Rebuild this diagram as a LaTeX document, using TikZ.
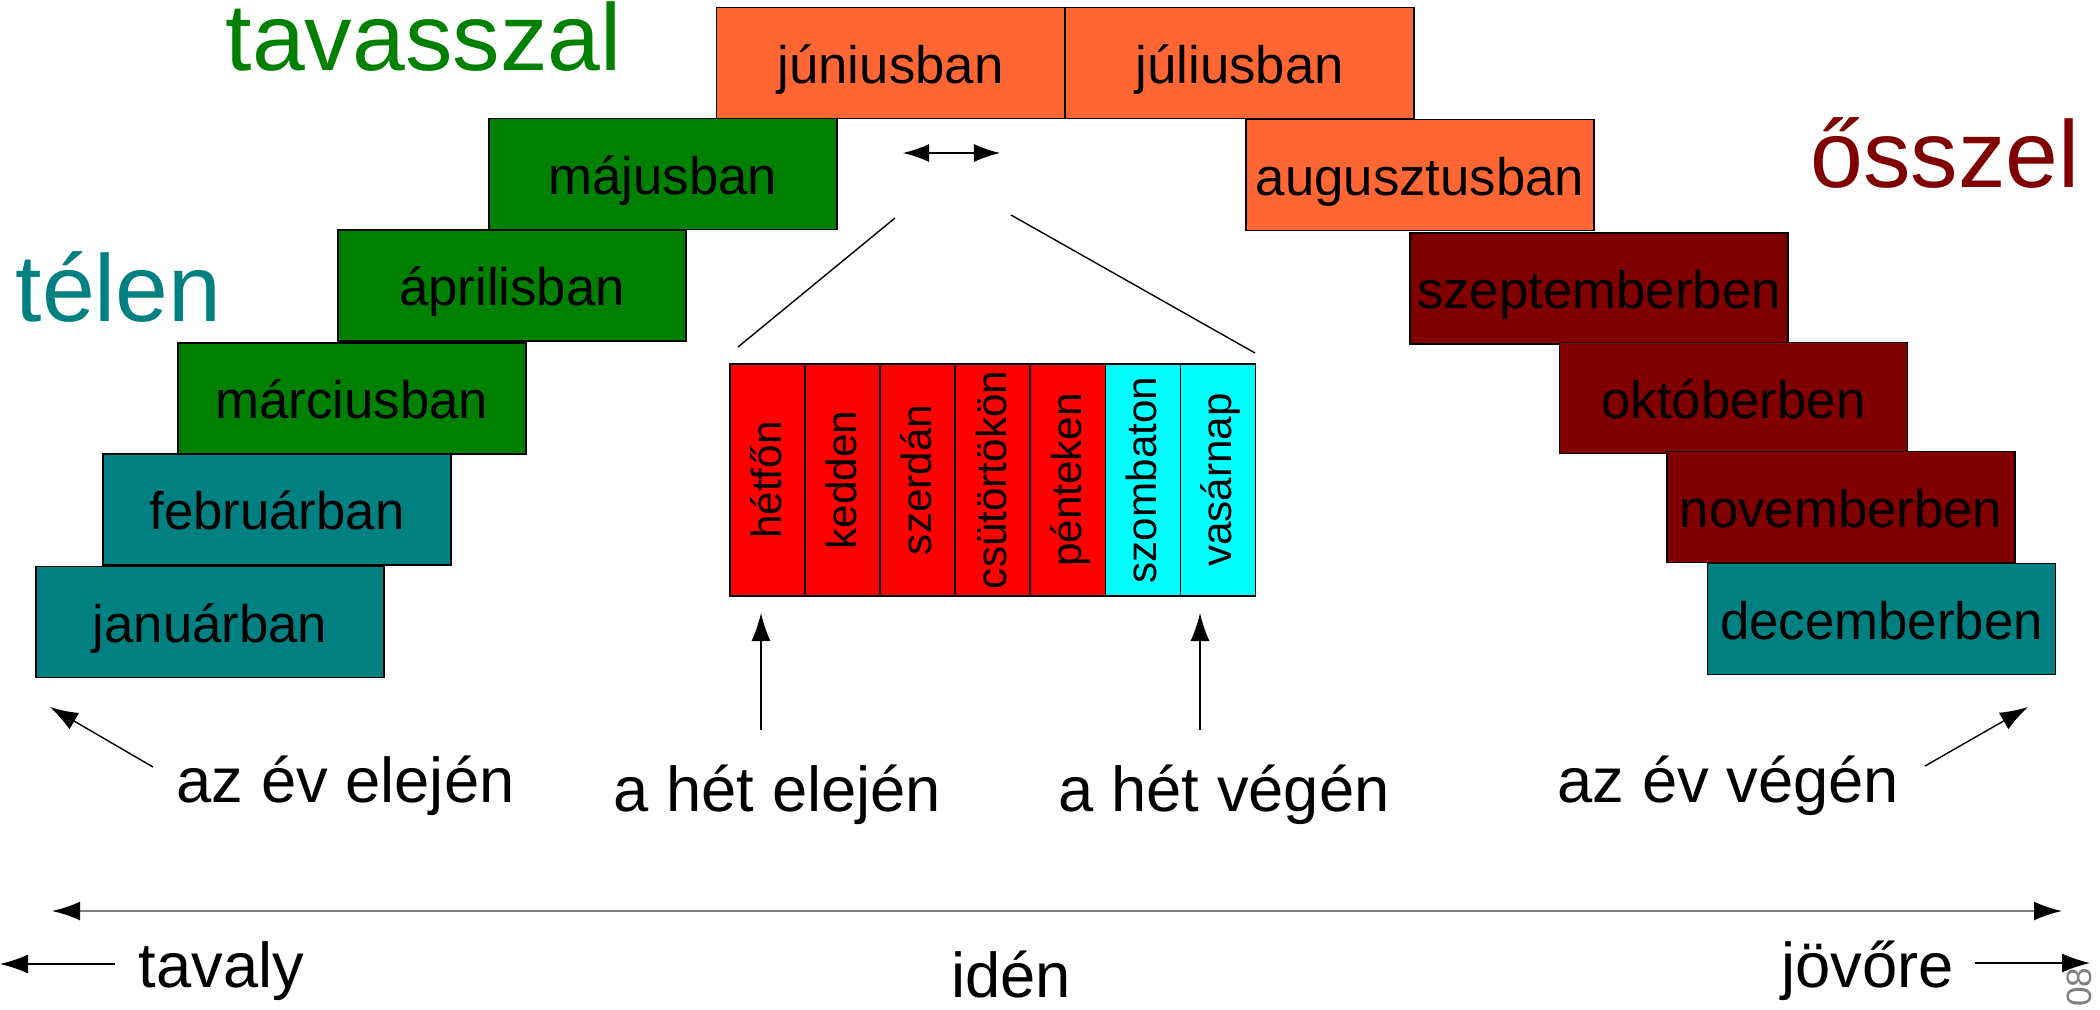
\documentclass[tikz,border=0pt]{standalone}
\usepackage{fontspec}
\setmainfont{Liberation Sans}
\usetikzlibrary{arrows.meta}
\begin{document}
\begin{tikzpicture}[x=0.01cm, y=-0.01cm, node distance=3.49cm]
    \definecolor{winter-color}{HTML}{008080}
    \definecolor{spring-color}{HTML}{008000}
    \definecolor{summer-color}{HTML}{FF6633}
    \definecolor{autumn-color}{HTML}{800000}
    \definecolor{workday-color}{HTML}{FF0000}
    \definecolor{weekend-color}{HTML}{00FFFF}
    \tikzstyle{every node}=[font=\fontsize{15}{18}\selectfont]
    \tikzstyle{month} = [rectangle, draw, inner sep=0pt, minimum width=3.48cm, minimum height=1.11cm, text height=0.4cm, text depth=0pt]
    \tikzstyle{day} = [rectangle, draw, inner sep=0pt, minimum width=0.75cm, minimum height=2.32cm, font=\fontsize{12}{14}\selectfont]
    \tikzstyle{season} = [font=\fontsize{27}{32}\selectfont, anchor=base west, inner sep=0pt]
    \tikzstyle{timetext} = [font=\fontsize{18}{22}\selectfont, anchor=base west, inner sep=0pt]
    \tikzstyle{arr} = [-{Latex[length=2.8mm, width=1.9mm]}]
    \useasboundingbox (0,0) rectangle (2100,1009);
        % months of the year
        \node (month1) [month, fill=winter-color] at (210,622) {januárban};
        \node (month2) [month, fill=winter-color] at (277,509.5) {februárban};
        \node (month3) [month, fill=spring-color] at (352,398.5) {márciusban};
        \node (month4) [month, fill=spring-color] at (512,285.5) {áprilisban};
        \node (month5) [month, fill=spring-color] at (663,174) {májusban};
        \node (month6) [month, fill=summer-color] at (890.5,63) {júniusban};
        \node (month7) [month, fill=summer-color, right of=month6] {júliusban};
        \node (month8) [month, fill=summer-color] at (1420,175) {augusztusban};
        \node (month9) [month, fill=autumn-color, minimum width=3.78cm] at (1599,288.5) {szeptemberben};
        \node (month10) [month, fill=autumn-color] at (1733.5,398) {októberben};
        \node (month11) [month, fill=autumn-color] at (1841,507) {novemberben};
        \node (month12) [month, fill=winter-color] at (1881.5,619) {decemberben};
        % seasons
        \node (spring) [season, text=spring-color] at (225,70) {tavasszal};
        \node (winter) [season, text=winter-color] at (15,321) {télen};
        \node (autumn) [season, text=autumn-color] at (1810,187) {ősszel};
        % days of the week
        \begin{scope}[node distance=0.75cm]
        \node (day1) [day, fill=workday-color] at (767.5,480) {\rotatebox{90}{\vphantom{Ág}hétfőn}};
        \node (day2) [day, fill=workday-color, right of=day1] {\rotatebox{90}{\vphantom{Ág}kedden}};
        \node (day3) [day, fill=workday-color, right of=day2] {\rotatebox{90}{\vphantom{Ág}szerdán}};
        \node (day4) [day, fill=workday-color, right of=day3] {\rotatebox{90}{\vphantom{Ág}csütörtökön}};
        \node (day5) [day, fill=workday-color, right of=day4] {\rotatebox{90}{\vphantom{Ág}pénteken}};
        \node (day6) [day, fill=weekend-color, right of=day5] {\rotatebox{90}{\vphantom{Ág}szombaton}};
        \node (day7) [day, fill=weekend-color, right of=day6] {\rotatebox{90}{\vphantom{Ág}vasárnap}};
        \end{scope}
        % zoom from one day to the week
        \coordinate (dayL) at (903,153);
        \coordinate (dayR) at (1000,153);
        \draw[{Latex[length=2.6mm, width=1.8mm]}-{Latex[length=2.6mm, width=1.8mm]}] (dayL) -- (dayR);
        \coordinate (zoomL1) at (895,218);
        \coordinate (zoomL2) at (738,347);
        \coordinate (zoomR1) at (1011,215);
        \coordinate (zoomR2) at (1255,353);
        \draw (zoomL1) -- (zoomL2);
        \draw (zoomR1) -- (zoomR2);
        % texts below
        \node (yearstart) [timetext] at (176,802) {az év elején};
        \node (weekstart) [timetext] at (613,811) {a hét elején};
        \node (weekend) [timetext] at (1058,811) {a hét végén};
        \node (yearend) [timetext] at (1557,802) {az év végén};
        \node (lastyear) [timetext] at (138,987) {tavaly};
        \node (thisyear) [timetext, anchor=base] at (1011,997) {idén};
        \node (nextyear) [timetext] at (1781,987) {jövőre};
        % arrows
        \coordinate (yearstart-a) at (153,767);
        \coordinate (yearstart-b) at (50,707);
        \coordinate (yearend-a) at (1925,766);
        \coordinate (yearend-b) at (2028,707);
        \coordinate (weekstart-a) at (761,730);
        \coordinate (weekstart-b) at (761,613);
        \coordinate (weekend-a) at (1200,730);
        \coordinate (weekend-b) at (1200,613);
        \coordinate (lastyear-a) at (115,964);
        \coordinate (lastyear-b) at (0,964);
        \coordinate (nextyear-a) at (1975,963);
        \coordinate (nextyear-b) at (2090,963);
        \coordinate (thisyear-l) at (52,911);
        \coordinate (thisyear-r) at (2062,911);
        \draw[arr] (yearstart-a) -- (yearstart-b);
        \draw[arr] (yearend-a) -- (yearend-b);
        \draw[arr] (weekstart-a) -- (weekstart-b);
        \draw[arr] (weekend-a) -- (weekend-b);
        \draw[arr] (lastyear-a) -- (lastyear-b);
        \draw[arr] (nextyear-a) -- (nextyear-b);
        \draw[draw=gray, line width=0.6pt, {Latex[length=2.8mm, width=1.9mm, black]}-{Latex[length=2.8mm, width=1.9mm, black]}] (thisyear-l) -- (thisyear-r);
        \node (pagenum) [font=\fontsize{10}{12}\selectfont, text=gray, rotate=90, inner sep=0pt] at (2079.5,987) {08};
\end{tikzpicture}
\end{document}
